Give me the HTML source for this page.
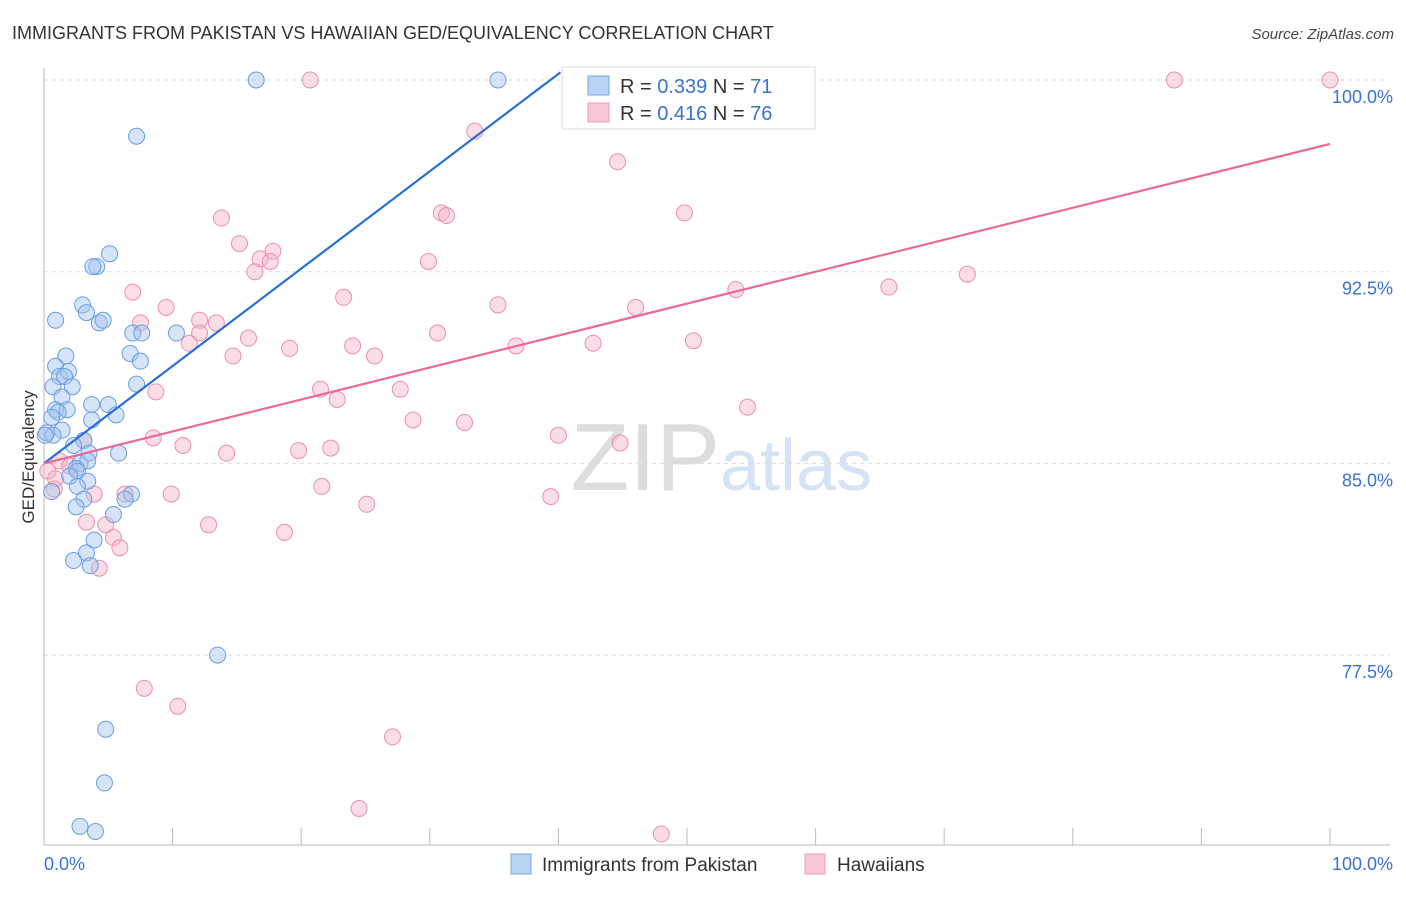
<!DOCTYPE html>
<html><head><meta charset="utf-8">
<style>
body{margin:0;background:#fff;font-family:"Liberation Sans",sans-serif;}
svg text{font-family:"Liberation Sans",sans-serif;}
</style></head>
<body>
<svg id="chart" width="1406" height="892" viewBox="0 0 1406 892" xmlns="http://www.w3.org/2000/svg">
<text x="12" y="39" font-size="18" fill="#333">IMMIGRANTS FROM PAKISTAN VS HAWAIIAN GED/EQUIVALENCY CORRELATION CHART</text>
<text x="1394" y="39" font-size="15" fill="#444" text-anchor="end" font-style="italic">Source: ZipAtlas.com</text>
<text x="720" y="490" font-size="96" fill="#ddd" text-anchor="end" font-family="Liberation Serif">ZIP</text>
<text x="720" y="490" font-size="72" fill="#d6e3f5">atlas</text>
<g id="grid"></g>
<g id="axes"></g>
<g id="marks"></g>
<g id="lines"></g>
<text transform="translate(34,457) rotate(-90)" font-size="17" fill="#333" text-anchor="middle">GED/Equivalency</text>
<g>
<rect x="562" y="67" width="253" height="62" fill="#fff" stroke="#ddd"/>
<rect x="588" y="76" width="21" height="19" fill="#b7d3f5" stroke="#7aa7e0"/>
<text x="620" y="93" font-size="20" fill="#333">R = <tspan fill="#3a72d0">0.339</tspan>   N = <tspan fill="#3a72d0">71</tspan></text>
<rect x="588" y="103" width="21" height="19" fill="#f9c6d6" stroke="#ef9bb5"/>
<text x="620" y="120" font-size="20" fill="#333">R = <tspan fill="#3a72d0">0.416</tspan>   N = <tspan fill="#3a72d0">76</tspan></text>
</g>
<g>
<rect x="511" y="854" width="20" height="20" fill="#b7d3f5" stroke="#7aa7e0"/>
<text x="542" y="871" font-size="19" fill="#333">Immigrants from Pakistan</text>
<rect x="805" y="854" width="20" height="20" fill="#f9c6d6" stroke="#ef9bb5"/>
<text x="837" y="871" font-size="19" fill="#333">Hawaiians</text>
</g>
</svg>
<script>
const blueX=[16.5,35.3,7.2,5.1,4.1,3.8,3.0,3.3,0.9,4.3,4.6,6.9,7.6,10.3,6.7,7.5,1.7,0.9,1.2,1.9,1.6,2.2,7.2,0.7,1.4,3.7,5.0,0.9,1.8,1.1,5.6,0.6,3.7,0.2,1.4,0.7,3.1,2.3,3.5,5.8,2.8,3.4,2.5,2.6,2.0,3.4,2.6,0.6,6.8,6.3,3.1,2.5,5.4,3.9,3.3,2.3,3.6,13.5,4.8,4.7,2.8,4.0,0.1];
const blueY=[100,100,97.8,93.2,92.7,92.7,91.2,90.9,90.6,90.5,90.6,90.1,90.1,90.1,89.3,89.0,89.2,88.8,88.4,88.6,88.4,88.0,88.1,88.0,87.6,87.3,87.3,87.1,87.1,87.0,86.9,86.8,86.7,86.2,86.3,86.1,85.9,85.7,85.4,85.4,85.0,85.1,84.8,84.7,84.5,84.3,84.1,83.9,83.8,83.6,83.6,83.3,83.0,82.0,81.5,81.2,81.0,77.5,74.6,72.5,70.8,70.6,86.1];
const pinkX=[20.7,87.9,100,33.5,44.6,49.8,13.8,30.9,31.3,15.2,17.8,16.8,17.6,16.4,29.9,71.8,65.7,53.8,6.9,35.3,23.3,9.5,46.0,7.5,12.1,13.4,12.1,30.6,15.9,11.3,50.5,42.7,36.7,24.0,19.1,25.7,14.7,8.7,21.5,27.7,22.8,54.7,28.7,32.7,40.0,8.5,3.1,10.8,44.8,19.8,22.3,14.2,1.2,2.0,0.3,0.9,0.8,21.6,3.9,6.3,9.9,39.4,25.1,3.3,12.8,4.8,18.7,5.4,5.9,4.3,7.8,10.4,27.1,24.5,48.0];
const pinkY=[100,100,100,98.0,96.8,94.8,94.6,94.8,94.7,93.6,93.3,93.0,92.9,92.5,92.9,92.4,91.9,91.8,91.7,91.2,91.5,91.1,91.1,90.5,90.6,90.5,90.1,90.1,89.9,89.7,89.8,89.7,89.6,89.6,89.5,89.2,89.2,87.8,87.9,87.9,87.5,87.2,86.7,86.6,86.1,86.0,85.9,85.7,85.8,85.5,85.6,85.4,85.1,84.9,84.7,84.4,84.0,84.1,83.8,83.8,83.8,83.7,83.4,82.7,82.6,82.6,82.3,82.1,81.7,80.9,76.2,75.5,74.3,71.5,70.5];
const blueTrend=[85.0,0.381];   // intercept, slope
const pinkTrend=[85.0,0.125];
const yTicks=[100,92.5,85,77.5];
const yTickLabels=["100.0%","92.5%","85.0%","77.5%"];
const xTickCount=10;

const NS="http://www.w3.org/2000/svg";
const X=v=>44+v*12.86;
const Y=v=>80+(100-v)*25.56;
function mk(tag,attrs,parent){const e=document.createElementNS(NS,tag);for(const k in attrs)e.setAttribute(k,attrs[k]);parent.appendChild(e);return e;}
const grid=document.getElementById('grid'),axes=document.getElementById('axes'),marks=document.getElementById('marks'),lines=document.getElementById('lines');
yTicks.forEach((t,i)=>{
  const l=mk('line',{x1:44,x2:1390,y1:Y(t),y2:Y(t),stroke:'#ddd','stroke-dasharray':'4,4'},grid);
  
  
  const tx=mk('text',{x:1393,y:Y(t)+23,'font-size':18,fill:'#3a72d0','text-anchor':'end'},axes);
  tx.textContent=yTickLabels[i];
  
  
});
const ax=mk('line',{x1:44,x2:44,y1:68,y2:845,stroke:'#bbb'},axes);


const bx=mk('line',{x1:44,x2:1390,y1:845,y2:845,stroke:'#bbb'},axes);


for(let i=0;i<=xTickCount;i++){
  const tk=mk('line',{x1:X(i*10),x2:X(i*10),y1:828,y2:845,stroke:'#bbb'},axes);
  
  
}
const xl=mk('text',{x:44,y:870,'font-size':18,fill:'#3a72d0'},axes);xl.textContent='0.0%';


const xr=mk('text',{x:1393,y:870,'font-size':18,fill:'#3a72d0','text-anchor':'end'},axes);xr.textContent='100.0%';


function dots(xs,ys,fill,stroke,name){xs.forEach((x,i)=>{
  const c=mk('circle',{cx:X(x),cy:Y(ys[i]),r:8,fill:fill,'fill-opacity':0.45,stroke:stroke,'stroke-width':1},marks);
  
  
});}
dots(pinkX,pinkY,'#f7b3c8','#ec8fad','point-hawaiians');
dots(blueX,blueY,'#a3c4ee','#6a9de0','point-pakistan');
const bEnd=(100.3-blueTrend[0])/blueTrend[1];
const bl=mk('line',{x1:X(0),y1:Y(blueTrend[0]),x2:X(bEnd),y2:Y(blueTrend[0]+blueTrend[1]*bEnd),stroke:'#2a6fd6','stroke-width':2.2},lines);


const pl=mk('line',{x1:X(0),y1:Y(pinkTrend[0]),x2:X(100),y2:Y(pinkTrend[0]+pinkTrend[1]*100),stroke:'#e8699a','stroke-width':2.2},lines);


</script>
</body></html>
